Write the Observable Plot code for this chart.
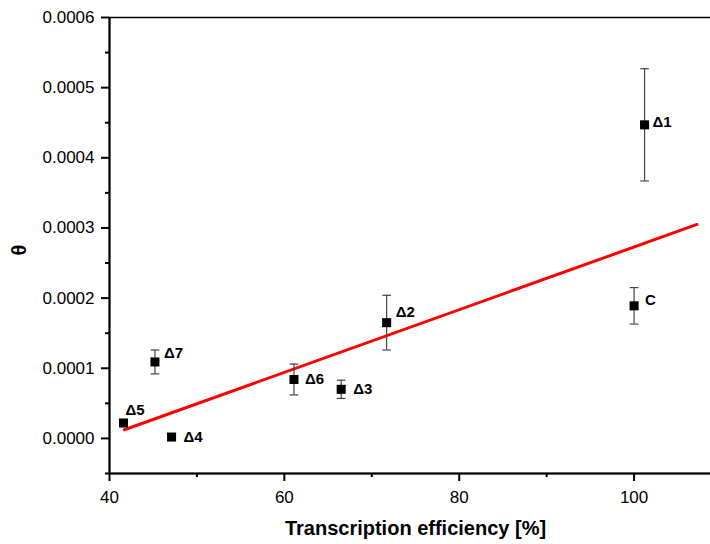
<!DOCTYPE html>
<html>
<head>
<meta charset="utf-8">
<script src="https://cdn.jsdelivr.net/npm/d3@7"></script>
<script src="https://cdn.jsdelivr.net/npm/@observablehq/plot@0.6"></script>
<style>
  html, body { margin: 0; padding: 0; background: #fff; overflow: hidden; }
  #chart { width: 710px; height: 544px; overflow: hidden; }
  #chart svg { max-width: none !important; width: 722px !important; height: 544px !important; }
</style>
</head>
<body>
<div id="chart"></div>
<script>
// ---- data ----
const labels     = ["Δ1", "Δ2", "Δ3", "Δ4", "Δ5", "Δ6", "Δ7", "C"];
const efficiency = [101.2, 71.7, 66.5, 47.1, 41.6, 61.1, 45.2, 100.0];
const theta      = [0.000447, 0.000165, 0.000070, 0.000002, 0.000022, 0.000084, 0.000109, 0.000189];
const thetaErr   = [0.000080, 0.000039, 0.000013, 0, 0, 0.000022, 0.000017, 0.000026];

// fitted line end points
const fitX = [41.7, 107.2];
const fitY = [0.0000124, 0.000305];

// axis ticks
const xTicks = [40, 60, 80, 100];
const xMinor = [50, 70, 90, 110];
const yTicks = [0, 0.0001, 0.0002, 0.0003, 0.0004, 0.0005, 0.0006];
const yMinor = [-0.00005, 0.00005, 0.00015, 0.00025, 0.00035, 0.00045, 0.00055];

const xLabel = "Transcription efficiency [%]";
const yLabel = "θ";

// label nudges (style)
const labelNudge = {
  "Δ1": [8, -3], "Δ2": [9, -10], "Δ3": [12, 0], "Δ4": [12, 0],
  "Δ5": [2, -13], "Δ6": [11, 0], "Δ7": [9, -9], "C": [11, -6]
};

// ---- build tables ----
const points = labels.map((l, i) => ({label: l, x: efficiency[i], y: theta[i], e: thetaErr[i]}));
const errPts = points.filter(d => d.e > 0);
const fit = fitX.map((x, i) => ({x, y: fitY[i]}));

const capSymbol = {
  draw(ctx, size) {
    const w = Math.sqrt(size / Math.PI);
    ctx.moveTo(-w, 0);
    ctx.lineTo(w, 0);
  }
};

const font = "'Liberation Sans', Arial, Helvetica, sans-serif";

const chart = Plot.plot({
  width: 722,
  height: 544,
  marginLeft: 109,
  marginRight: 1,
  marginTop: 17,
  marginBottom: 71,
  style: {fontFamily: font, fontSize: "17px", color: "#000", background: "#fff"},
  x: {domain: [40, 110], axis: null},
  y: {domain: [-0.00005, 0.0006], axis: null},
  marks: [
    Plot.frame({stroke: "#000", strokeWidth: 1.5}),
    Plot.ruleX([40], {stroke: "#000", strokeWidth: 2}),
    Plot.ruleY([-0.00005], {stroke: "#000", strokeWidth: 2}),
    Plot.axisY(yTicks, {tickSize: 8, tickPadding: 7, tickFormat: d3.format(".4f"), label: null, strokeWidth: 2, fontSize: 17}),
    Plot.axisY(yMinor, {tickSize: 4, tickFormat: () => "", label: null, strokeWidth: 2}),
    Plot.axisX(xTicks, {tickSize: 8, tickPadding: 9, tickFormat: d => String(d), label: null, strokeWidth: 2, fontSize: 17}),
    Plot.axisX(xMinor, {tickSize: 4, tickFormat: () => "", label: null, strokeWidth: 2}),
    Plot.text([xLabel], {frameAnchor: "bottom", dy: 55, lineAnchor: "middle", fontWeight: "bold", fontSize: 20, fill: "#000"}),
    Plot.text([yLabel], {frameAnchor: "left", dx: -90, dy: 10, rotate: -90, fontWeight: "bold", fontSize: 20, fill: "#000"}),
    Plot.line(fit, {x: "x", y: "y", stroke: "#ff0000", strokeWidth: 3}),
    Plot.ruleX(errPts, {x: "x", y1: d => d.y - d.e, y2: d => d.y + d.e, stroke: "#444", strokeWidth: 1.2}),
    Plot.dot(errPts, {x: "x", y: d => d.y - d.e, symbol: capSymbol, r: 4.3, stroke: "#444", strokeWidth: 1.2, fill: "none"}),
    Plot.dot(errPts, {x: "x", y: d => d.y + d.e, symbol: capSymbol, r: 4.3, stroke: "#444", strokeWidth: 1.2, fill: "none"}),
    Plot.dot(points, {x: "x", y: "y", symbol: "square", r: 5.1, fill: "#000", stroke: "none"}),
    ...points.map(p => Plot.text([p], {
      x: "x", y: "y", text: "label",
      dx: labelNudge[p.label][0], dy: labelNudge[p.label][1],
      textAnchor: "start", lineAnchor: "middle",
      fontWeight: "bold", fontSize: 15, fill: "#000"
    }))
  ]
});

document.getElementById("chart").appendChild(chart);
</script>
</body>
</html>
